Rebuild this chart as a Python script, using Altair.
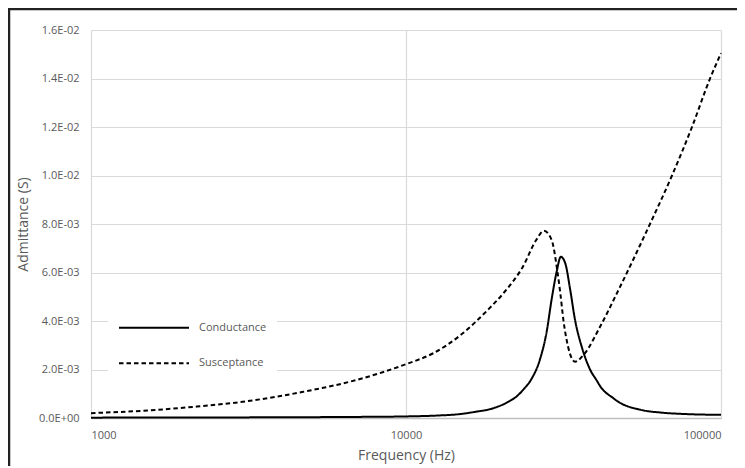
import altair as alt
import pandas as pd

# ---- data ----
cond_freq = [1000, 2000, 4000, 7000, 10000, 12500, 14900, 16500, 18900, 21000,
             22400, 23500, 25000, 26600, 28000, 29000, 30100, 31000, 32000, 33200,
             34400, 36200, 38400, 40300, 41400, 45600, 46800, 55500, 65000, 75000, 100000]
cond_vals = [1.5e-5, 2.0e-5, 3.0e-5, 4.5e-5, 6.5e-5, 1.0e-4, 1.65e-4, 2.5e-4, 4.0e-4, 6.5e-4,
             8.8e-4, 1.15e-3, 1.6e-3, 2.4e-3, 3.6e-3, 4.9e-3, 6.05e-3, 6.65e-3, 6.4e-3, 5.3e-3,
             4.05e-3, 2.9e-3, 2.0e-3, 1.55e-3, 1.3e-3, 8.1e-4, 7.0e-4, 3.4e-4, 2.2e-4, 1.7e-4, 1.3e-4]

susc_freq = [1000, 1465, 2165, 3200, 4720, 6970, 10000, 12200, 15000, 18000,
             20800, 23500, 25900, 27400, 29000, 30300, 30900, 31600, 32700,
             34400, 36600, 41300, 46700, 59500, 69900, 80900, 92300, 100000]
susc_vals = [2.0e-4, 3.0e-4, 4.7e-4, 7.1e-4, 1.08e-3, 1.57e-3, 2.22e-3, 2.67e-3, 3.45e-3, 4.4e-3,
             5.28e-3, 6.24e-3, 7.34e-3, 7.72e-3, 7.34e-3, 5.97e-3, 5.14e-3, 4.04e-3, 2.94e-3,
             2.32e-3, 2.6e-3, 3.76e-3, 5.14e-3, 8.0e-3, 1.0e-2, 1.2e-2, 1.4e-2, 1.504e-2]

series_names = ["Conductance", "Susceptance"]
x_ticks = [1000, 10000, 100000]
y_ticks = [0, 0.002, 0.004, 0.006, 0.008, 0.010, 0.012, 0.014, 0.016]

df = pd.concat([
    pd.DataFrame({"freq": cond_freq, "value": cond_vals, "series": series_names[0]}),
    pd.DataFrame({"freq": susc_freq, "value": susc_vals, "series": series_names[1]}),
], ignore_index=True)

FONT = "Open Sans"
GREY = "#595959"

y_label_expr = ("datum.value == 0 ? '0.0E+00' : (datum.value >= 0.00999 ? "
                "format(datum.value * 100, '.1f') + 'E-02' : format(datum.value * 1000, '.1f') + 'E-03')")

lines = alt.Chart(df).mark_line(color="black", strokeWidth=2, interpolate="monotone").encode(
    x=alt.X("freq:Q",
            scale=alt.Scale(type="log", domain=[1000, 100000], nice=False),
            axis=alt.Axis(values=x_ticks, format="d", title="Frequency (Hz)",
                          grid=True, gridColor="#d9d9d9", gridWidth=1.2,
                          ticks=False, domain=True, domainColor="#bfbfbf", domainWidth=1.5,
                          labelFont=FONT, labelFontSize=11, labelColor=GREY, labelPadding=11,
                          titleFont=FONT, titleFontSize=14, titleFontWeight="normal",
                          titleColor=GREY, titlePadding=8)),
    y=alt.Y("value:Q",
            scale=alt.Scale(domain=[0, 0.016], nice=False),
            axis=alt.Axis(values=y_ticks, labelExpr=y_label_expr, title="Admittance (S)",
                          grid=True, gridColor="#d9d9d9", gridWidth=1.2,
                          ticks=False, domain=False,
                          labelFont=FONT, labelFontSize=11, labelColor=GREY, labelPadding=12,
                          titleFont=FONT, titleFontSize=14, titleFontWeight="normal",
                          titleColor=GREY, titlePadding=8)),
    strokeDash=alt.StrokeDash("series:N",
                              scale=alt.Scale(domain=series_names, range=[[1, 0], [4.5, 3]]),
                              legend=alt.Legend(title=None, orient="none", legendX=17, legendY=280.7,
                                                symbolType="stroke", symbolSize=4900,
                                                symbolStrokeWidth=2, symbolStrokeColor="black",
                                                clipHeight=14, rowPadding=21.6,
                                                labelFont=FONT, labelFontSize=11, labelColor=GREY,
                                                labelOffset=9,
                                                fillColor="white", padding=10)),
)

border = alt.Chart(pd.DataFrame({"k": [0]})).mark_rect(
    fill=None, stroke="#222222", strokeWidth=2.5
).encode(x=alt.value(-82), x2=alt.value(680), y=alt.value(-21), y2=alt.value(470))

chart = alt.layer(lines, border).properties(
    width=630, height=388,
    padding={"left": 83, "top": 22, "right": 16, "bottom": 48},
    autosize=alt.AutoSizeParams(type="none"),
).configure_view(stroke=None)

chart.save("out.html", embed_options={"renderer": "svg", "actions": False})
